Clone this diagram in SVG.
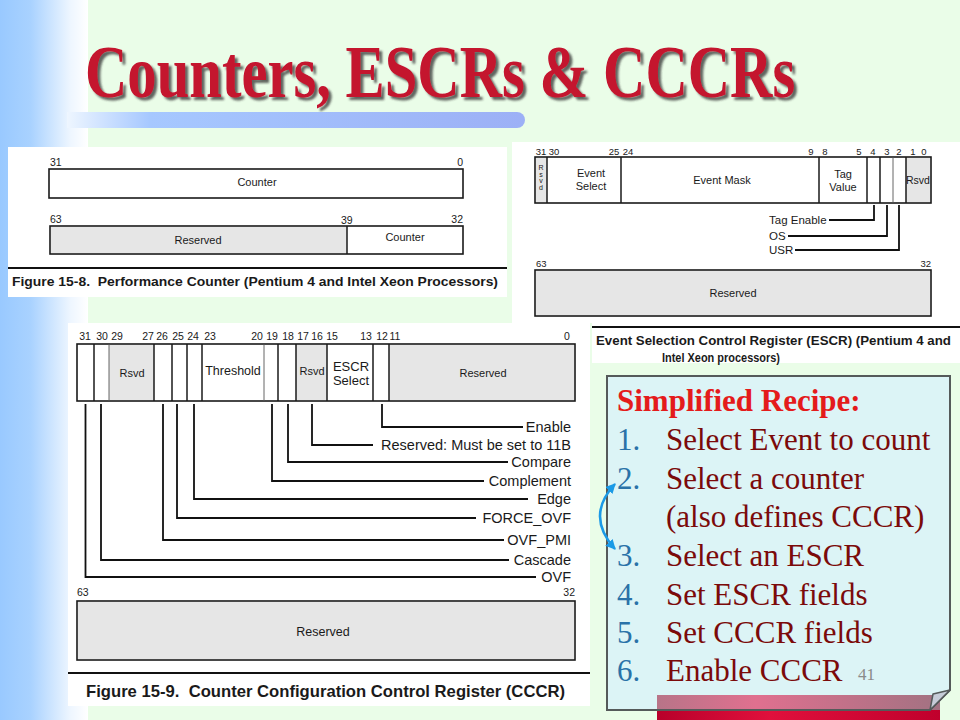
<svg xmlns="http://www.w3.org/2000/svg" width="960" height="720" viewBox="0 0 960 720">
<defs>
<linearGradient id="leftStrip" x1="0" y1="0" x2="1" y2="0">
<stop offset="0" stop-color="#99c9ff"/>
<stop offset="0.35" stop-color="#a9d2ff"/>
<stop offset="0.8" stop-color="#eef6ff"/>
<stop offset="1" stop-color="#ffffff"/>
</linearGradient>
<linearGradient id="titleBar" x1="67" y1="0" x2="525" y2="0" gradientUnits="userSpaceOnUse">
<stop offset="0" stop-color="#eef6ff"/>
<stop offset="0.18" stop-color="#a6c8ff"/>
<stop offset="1" stop-color="#9cb0f6"/>
</linearGradient>
<linearGradient id="pinkBand" x1="657" y1="0" x2="940" y2="0" gradientUnits="userSpaceOnUse">
<stop offset="0" stop-color="#b87488"/>
<stop offset="0.35" stop-color="#e0708f"/>
<stop offset="1" stop-color="#a27282"/>
</linearGradient>
<linearGradient id="redBand" x1="657" y1="0" x2="940" y2="0" gradientUnits="userSpaceOnUse">
<stop offset="0" stop-color="#b8002a"/>
<stop offset="0.4" stop-color="#e0103c"/>
<stop offset="1" stop-color="#c0002c"/>
</linearGradient>
<filter id="shadow" filterUnits="userSpaceOnUse" x="60" y="20" width="780" height="110">
<feDropShadow dx="3" dy="3" stdDeviation="0.8" flood-color="#333333" flood-opacity="0.75"/>
</filter>
<marker id="arr" viewBox="0 0 10 10" refX="9" refY="5" markerWidth="10" markerHeight="10" markerUnits="userSpaceOnUse" orient="auto-start-reverse">
<path d="M0,0 L10,5 L0,10 z" fill="#1b9ae6"/>
</marker>
<style>
.f { font-family: "Liberation Sans", Arial, sans-serif; fill: #1a1a1a; }
.s9 { font-size: 9.5px; }
.s10 { font-size: 10.5px; }
.s11 { font-size: 11px; }
.s12 { font-size: 12.5px; }
.s13 { font-size: 13px; }
.lab { font-size: 14.5px; text-anchor: end; }
.mid { text-anchor: middle; }
.end { text-anchor: end; }
.cap { font-weight: bold; }
.reg { fill: #ffffff; stroke: #1a1a1a; stroke-width: 1.6; }
.gray { fill: #e6e6e6; }
.div { stroke: #1a1a1a; stroke-width: 1.5; }
.thin { stroke: #555; stroke-width: 0.9; }
.rule { stroke: #111; stroke-width: 2; }
.conn { fill: none; stroke: #111; stroke-width: 1.8; }
.rcp { font-family: "Liberation Serif", "Times New Roman", serif; font-size: 31px; }
.num { fill: #2a72a8; }
.txt { fill: #7b0a0a; }
</style>
</defs>

<rect x="0" y="0" width="960" height="720" fill="#eafde8"/>
<rect x="0" y="0" width="88" height="720" fill="url(#leftStrip)"/>

<g id="title">
<g filter="url(#shadow)">
<text transform="translate(85 97) scale(0.782 1)" x="0" y="0" font-family="Liberation Serif, Times New Roman, serif" font-weight="bold" font-size="75" fill="#c4122f">Counters, ESCRs &amp; CCCRs</text>
</g>
<path d="M67 112 H517 A8 8 0 0 1 517 128 H67 Z" fill="url(#titleBar)"/>
</g>

<g id="perf-counter">
<rect x="8" y="147" width="499" height="150" fill="#ffffff"/>
<text class="f s10" x="50" y="166">31</text>
<text class="f s10 end" x="463" y="166">0</text>
<rect class="reg" x="49" y="169" width="414" height="29"/>
<text class="f s11 mid" x="257" y="186">Counter</text>
<text class="f s10" x="50" y="223">63</text>
<text class="f s10" x="341" y="224">39</text>
<text class="f s10 end" x="463" y="223">32</text>
<rect class="reg" x="50" y="226" width="413" height="28"/>
<rect class="gray" x="51" y="227" width="296" height="26"/>
<line class="div" x1="347" y1="226" x2="347" y2="254"/>
<text class="f s11 mid" x="198" y="244">Reserved</text>
<text class="f s11 mid" x="405" y="241">Counter</text>
<line class="rule" x1="8" y1="268" x2="507" y2="268"/>
<text class="f cap" x="12" y="286" font-size="13.5" textLength="486" lengthAdjust="spacingAndGlyphs" xml:space="preserve">Figure 15-8.  Performance Counter (Pentium 4 and Intel Xeon Processors)</text>
</g>

<g id="escr">
<rect x="512" y="142" width="448" height="181" fill="#ffffff"/>
<rect x="592" y="323" width="368" height="40" fill="#ffffff"/>
<text class="f s9 mid" x="541" y="155">31</text>
<text class="f s9 mid" x="554" y="155">30</text>
<text class="f s9 mid" x="614" y="155">25</text>
<text class="f s9 mid" x="628" y="155">24</text>
<text class="f s9 mid" x="811" y="155">9</text>
<text class="f s9 mid" x="825" y="155">8</text>
<text class="f s9 mid" x="859" y="155">5</text>
<text class="f s9 mid" x="873" y="155">4</text>
<text class="f s9 mid" x="887" y="155">3</text>
<text class="f s9 mid" x="899" y="155">2</text>
<text class="f s9 mid" x="913" y="155">1</text>
<text class="f s9 mid" x="924" y="155">0</text>
<rect class="reg" x="535" y="157" width="396" height="46"/>
<rect class="gray" x="536" y="158" width="11" height="44"/>
<rect class="gray" x="906" y="158" width="24" height="44"/>
<line class="div" x1="547" y1="157" x2="547" y2="203"/>
<line class="div" x1="621" y1="157" x2="621" y2="203"/>
<line class="div" x1="819" y1="157" x2="819" y2="203"/>
<line class="div" x1="867" y1="157" x2="867" y2="203"/>
<line class="div" x1="880" y1="157" x2="880" y2="203"/>
<line class="thin" x1="893" y1="157" x2="893" y2="203"/>
<line class="div" x1="906" y1="157" x2="906" y2="203"/>
<text class="f mid" font-size="7" x="541" y="170">R</text>
<text class="f mid" font-size="7" x="541" y="177">s</text>
<text class="f mid" font-size="7" x="541" y="183">v</text>
<text class="f mid" font-size="7" x="541" y="190">d</text>
<text class="f s11 mid" x="591" y="177">Event</text>
<text class="f s11 mid" x="591" y="190">Select</text>
<text class="f s11 mid" x="722" y="184">Event Mask</text>
<text class="f s11 mid" x="843" y="178">Tag</text>
<text class="f s11 mid" x="843" y="191">Value</text>
<text class="f s10 mid" x="918" y="184">Rsvd</text>
<text class="f" font-size="11.5" x="769" y="224">Tag Enable</text>
<text class="f" font-size="11.5" x="769" y="240">OS</text>
<text class="f" font-size="11.5" x="769" y="254">USR</text>
<text class="f s9" x="536" y="267">63</text>
<text class="f s9 end" x="931" y="267">32</text>
<rect class="reg" x="535" y="270" width="396" height="46"/>
<rect class="gray" x="536" y="271" width="394" height="44"/>
<text class="f s11 mid" x="733" y="297">Reserved</text>
<line class="rule" x1="592" y1="327" x2="960" y2="327"/>
<text class="f cap" x="596" y="345" font-size="13" textLength="355" lengthAdjust="spacingAndGlyphs">Event Selection Control Register (ESCR) (Pentium 4 and</text>
<text class="f cap" x="662" y="362" font-size="13" textLength="118" lengthAdjust="spacingAndGlyphs">Intel Xeon processors)</text>
</g>

<g id="cccr">
<rect x="68" y="323" width="522" height="383" fill="#ffffff"/>
<text class="f s10 mid" x="85" y="340">31</text>
<text class="f s10 mid" x="102" y="340">30</text>
<text class="f s10 mid" x="117" y="340">29</text>
<text class="f s10 mid" x="148" y="340">27</text>
<text class="f s10 mid" x="162" y="340">26</text>
<text class="f s10 mid" x="178" y="340">25</text>
<text class="f s10 mid" x="193" y="340">24</text>
<text class="f s10 mid" x="210" y="340">23</text>
<text class="f s10 mid" x="257" y="340">20</text>
<text class="f s10 mid" x="272" y="340">19</text>
<text class="f s10 mid" x="288" y="340">18</text>
<text class="f s10 mid" x="303" y="340">17</text>
<text class="f s10 mid" x="317" y="340">16</text>
<text class="f s10 mid" x="332" y="340">15</text>
<text class="f s10 mid" x="366" y="340">13</text>
<text class="f s10 mid" x="382" y="340">12</text>
<text class="f s10 mid" x="395" y="340">11</text>
<text class="f s10 mid" x="567" y="340">0</text>
<rect class="reg" x="77" y="344" width="498" height="57"/>
<rect class="gray" x="109" y="345" width="45" height="55"/>
<rect class="gray" x="296" y="345" width="31" height="55"/>
<rect class="gray" x="389" y="345" width="185" height="55"/>
<line class="div" x1="94" y1="344" x2="94" y2="401"/>
<line class="thin" x1="109" y1="344" x2="109" y2="401"/>
<line class="div" x1="154" y1="344" x2="154" y2="401"/>
<line class="div" x1="172" y1="344" x2="172" y2="401"/>
<line class="div" x1="187" y1="344" x2="187" y2="401"/>
<line class="div" x1="202" y1="344" x2="202" y2="401"/>
<line class="thin" x1="264" y1="344" x2="264" y2="401"/>
<line class="div" x1="278" y1="344" x2="278" y2="401"/>
<line class="div" x1="296" y1="344" x2="296" y2="401"/>
<line class="div" x1="327" y1="344" x2="327" y2="401"/>
<line class="div" x1="373" y1="344" x2="373" y2="401"/>
<line class="div" x1="389" y1="344" x2="389" y2="401"/>
<text class="f s11 mid" x="132" y="377">Rsvd</text>
<text class="f s12 mid" x="233" y="375">Threshold</text>
<text class="f s11 mid" x="312" y="375">Rsvd</text>
<text class="f s13 mid" x="351" y="371">ESCR</text>
<text class="f s13 mid" x="351" y="385">Select</text>
<text class="f s11 mid" x="483" y="377">Reserved</text>
<text class="f lab" x="571" y="432">Enable</text>
<text class="f lab" x="571" y="450">Reserved: Must be set to 11B</text>
<text class="f lab" x="571" y="467">Compare</text>
<text class="f lab" x="571" y="486">Complement</text>
<text class="f lab" x="571" y="504">Edge</text>
<text class="f lab" x="571" y="523">FORCE_OVF</text>
<text class="f lab" x="571" y="545">OVF_PMI</text>
<text class="f lab" x="571" y="565">Cascade</text>
<text class="f lab" x="571" y="582">OVF</text>
<text class="f s10" x="77" y="596">63</text>
<text class="f s10 end" x="575" y="596">32</text>
<rect class="reg" x="77" y="601" width="498" height="59"/>
<rect class="gray" x="78" y="602" width="496" height="57"/>
<text class="f s12 mid" x="323" y="636">Reserved</text>
<line class="rule" x1="68" y1="673" x2="590" y2="673"/>
<text class="f cap" x="86" y="697" font-size="16.5" textLength="479" lengthAdjust="spacingAndGlyphs" xml:space="preserve">Figure 15-9.  Counter Configuration Control Register (CCCR)</text>
</g>

<g id="recipe">
<rect x="657" y="709" width="283" height="11" fill="url(#redBand)"/>
<path d="M607 376 H950 V690 L930 710 H607 Z" fill="#dcf4f6"/>
<rect x="657" y="695" width="283" height="15" fill="url(#pinkBand)"/>
<path d="M607 376 H950 V690 L930 710 H607 Z" fill="none" stroke="#555a5a" stroke-width="2"/>
<path d="M950 690 L933 694 L930 710 Z" fill="#c6ccd8" stroke="#555a5a" stroke-width="1.5" stroke-linejoin="round"/>
<text class="rcp" x="617" y="411" font-weight="bold" fill="#e41b1b">Simplified Recipe:</text>
<text class="rcp num" x="617" y="450">1.</text>
<text class="rcp txt" x="666" y="450">Select Event to count</text>
<text class="rcp num" x="617" y="489">2.</text>
<text class="rcp txt" x="666" y="489">Select a counter</text>
<text class="rcp txt" x="666" y="527">(also defines CCCR)</text>
<text class="rcp num" x="617" y="566">3.</text>
<text class="rcp txt" x="666" y="566">Select an ESCR</text>
<text class="rcp num" x="617" y="605">4.</text>
<text class="rcp txt" x="666" y="605">Set ESCR fields</text>
<text class="rcp num" x="617" y="643">5.</text>
<text class="rcp txt" x="666" y="643">Set CCCR fields</text>
<text class="rcp num" x="617" y="681">6.</text>
<text class="rcp txt" x="666" y="681">Enable CCCR</text>
<text x="858" y="680" font-family="Liberation Serif, Times New Roman, serif" font-size="17" fill="#8a8a8a">41</text>
</g>

<g id="connectors">
<path class="conn" d="M874 205 V220 H829"/>
<path class="conn" d="M887 205 V236 H788"/>
<path class="conn" d="M899 205 V250 H795"/>
<path class="conn" d="M85.5 404 V577 H536"/>
<path class="conn" d="M101 404 V560 H509" stroke-width="1.3"/>
<path class="conn" d="M163 404 V540 H504"/>
<path class="conn" d="M177 404 V518 H476"/>
<path class="conn" d="M194 404 V499 H528"/>
<path class="conn" d="M272 404 V481 H484" stroke-width="1.3"/>
<path class="conn" d="M288 404 V462 H508"/>
<path class="conn" d="M312 404 V445 H373"/>
<path class="conn" d="M382 404 V427 H523"/>
<path d="M615 484 Q585 516 615 549" fill="none" stroke="#1b9ae6" stroke-width="2.5" marker-start="url(#arr)" marker-end="url(#arr)"/>
</g>
</svg>
